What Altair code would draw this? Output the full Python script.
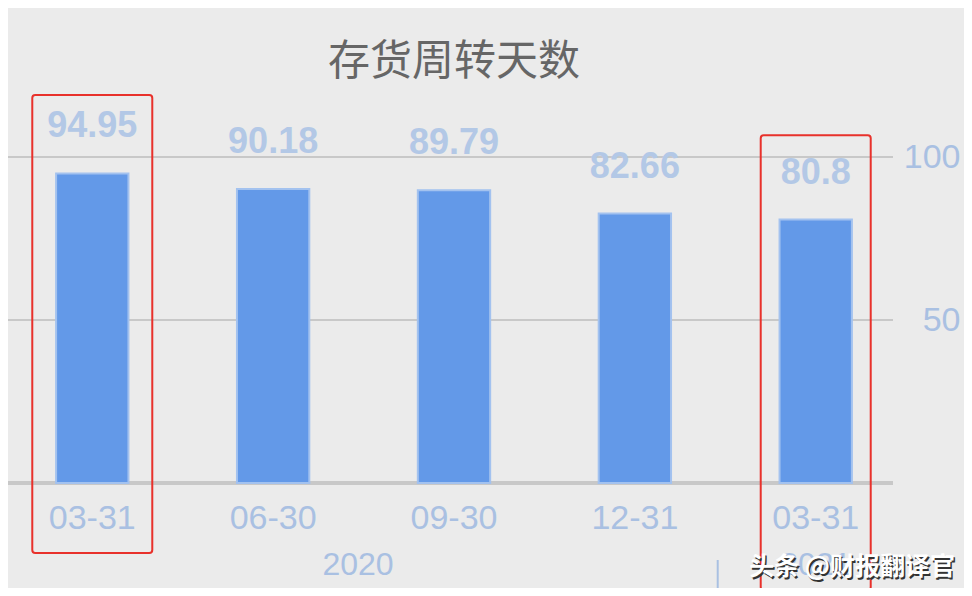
import altair as alt
import pandas as pd

# ---- data ----
categories = ["2020-03-31", "2020-06-30", "2020-09-30", "2020-12-31", "2021-03-31"]
values = [94.95, 90.18, 89.79, 82.66, 80.8]
value_labels = ["94.95", "90.18", "89.79", "82.66", "80.8"]
grid_values = [50, 100]
years = ["2020", "2021"]
year_anchor = ["2020-09-30", "2021-03-31"]
box_cats = ["2020-03-31", "2021-03-31"]
box_top = [119.0, 106.7]
box_bottom = [-21.5, -32.8]
box_width = [120, 110]

bars_df = pd.DataFrame({"cat": categories, "v": values, "lbl": value_labels})
grid_df = pd.DataFrame({"g": grid_values})
base_df = pd.DataFrame({"g": [0]})
box_df = pd.DataFrame({"cat": box_cats, "top": box_top, "bot": box_bottom, "w": box_width})
year_df = pd.DataFrame({"cat": year_anchor, "year": years})

LABEL_BLUE = "#a9c0e2"
FONT = "Liberation Sans"

xscale = alt.Scale(domain=categories, paddingInner=0.6, paddingOuter=0.266)
yscale = alt.Scale(domain=[0, 100], nice=False, zero=True)

x_axis = alt.Axis(
    title=None, labelAngle=0, domain=False, ticks=False,
    labelExpr="substring(datum.value, 5, 10)",
    labelFont=FONT, labelFontSize=34, labelColor=LABEL_BLUE, labelPadding=18,
)
y_axis = alt.Axis(
    title=None, orient="right", values=[50, 100], grid=False, domain=False, ticks=False,
    labelFont=FONT, labelFontSize=34, labelColor=LABEL_BLUE, labelAlign="right",
    labelBaseline="middle", labelPadding=60,
)

grid = alt.Chart(grid_df).mark_rule(color="#c8c8c8", strokeWidth=2).encode(
    y=alt.Y("g:Q", scale=yscale, axis=y_axis),
    x=alt.value(0), x2=alt.value(885),
)
baseline = alt.Chart(base_df).mark_rule(color="#c8c8c8", strokeWidth=4).encode(
    y=alt.Y("g:Q", scale=yscale),
    x=alt.value(0), x2=alt.value(885),
)

bars = alt.Chart(bars_df).mark_bar(color="#6399e8", stroke="#a3c2ef", strokeWidth=2).encode(
    x=alt.X("cat:N", scale=xscale, axis=x_axis, sort=categories),
    y=alt.Y("v:Q", scale=yscale),
)

labels = alt.Chart(bars_df).mark_text(
    font=FONT, fontSize=36, fontWeight="bold", color="#b3c8e6", baseline="alphabetic", dy=-36,
).encode(
    x=alt.X("cat:N", scale=xscale, sort=categories),
    y=alt.Y("v:Q", scale=yscale),
    text="lbl:N",
)

year1 = alt.Chart(year_df.iloc[[0]]).mark_text(
    font=FONT, fontSize=32, color=LABEL_BLUE, baseline="middle", dx=-96,
).encode(x=alt.X("cat:N", scale=xscale, sort=categories), y=alt.value(408), text="year:N")
year2 = alt.Chart(year_df.iloc[[1]]).mark_text(
    font=FONT, fontSize=32, color=LABEL_BLUE, baseline="middle", dx=0,
).encode(x=alt.X("cat:N", scale=xscale, sort=categories), y=alt.value(408), text="year:N")

sep = alt.Chart(year_df.iloc[[1]]).mark_rule(color="#a9c0e2", strokeWidth=2, xOffset=-98).encode(
    x=alt.X("cat:N", scale=xscale, sort=categories),
    y=alt.value(403), y2=alt.value(440),
)

boxes = alt.Chart(box_df).mark_bar(
    filled=False, stroke="#e8312b", strokeWidth=2, cornerRadius=3,
).encode(
    x=alt.X("cat:N", scale=xscale, sort=categories),
    y=alt.Y("top:Q", scale=yscale),
    y2="bot:Q",
    size=alt.Size("w:Q", scale=None, legend=None),
)

wm_df = pd.DataFrame({"t": ["头条 @财报翻译官"]})
wm_shadow = alt.Chart(wm_df).mark_text(
    font="Noto Sans CJK SC", fontSize=25, fontWeight="bold", color="#333333",
    align="right", baseline="middle", dx=1.5, dy=1.5,
).encode(x=alt.value(947), y=alt.value(410), text="t:N")
wm = alt.Chart(wm_df).mark_text(
    font="Noto Sans CJK SC", fontSize=25, fontWeight="bold", color="#ffffff",
    align="right", baseline="middle",
).encode(x=alt.value(947), y=alt.value(410), text="t:N")

chart = alt.layer(
    grid, baseline, bars, labels, year1, year2, sep, boxes, wm_shadow, wm
).properties(
    width=892, height=326,
    title=alt.TitleParams(
        "存货周转天数", font="Noto Sans CJK SC", fontSize=42, fontWeight="normal",
        color="#666666", anchor="middle", offset=10,
    ),
    autosize=alt.AutoSizeParams(type="none"),
    padding={"left": 0, "top": 149, "right": 64, "bottom": 105},
    background="#ebebeb",
).configure_view(stroke=None)

chart.save("out.html", embed_options={"renderer": "svg", "actions": False})
